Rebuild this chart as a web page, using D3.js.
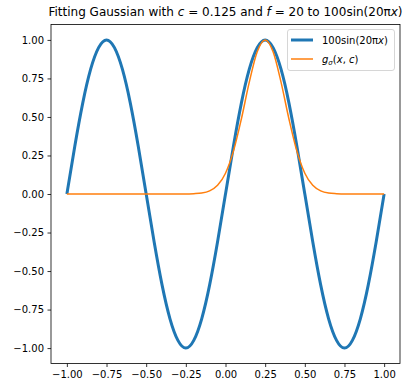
<!DOCTYPE html>
<html>
<head>
<meta charset="utf-8">
<script src="https://cdn.jsdelivr.net/npm/d3@7"></script>
<style>
  body { margin: 0; background: #fff; }
  text { font-family: "DejaVu Sans", sans-serif; }
</style>
</head>
<body>
<div id="chart"></div>
<script>
let xs = [-1.00, -0.95, -0.90, -0.85, -0.80, -0.75, -0.70, -0.65, -0.60, -0.55,
          -0.50, -0.45, -0.40, -0.35, -0.30, -0.25, -0.20, -0.15, -0.10, -0.05,
           0.00,  0.05,  0.10,  0.15,  0.20,  0.25,  0.30,  0.35,  0.40,  0.45,
           0.50,  0.55,  0.60,  0.65,  0.70,  0.75,  0.80,  0.85,  0.90,  0.95, 1.00];

// blue curve, 100sin(20πx) (normalised)
let sineVals = [0.00, 0.31, 0.59, 0.81, 0.95, 1.00, 0.95, 0.81, 0.59, 0.31,
                0.00, -0.31, -0.59, -0.81, -0.95, -1.00, -0.95, -0.81, -0.59, -0.31,
                0.00, 0.31, 0.59, 0.81, 0.95, 1.00, 0.95, 0.81, 0.59, 0.31,
                0.00, -0.31, -0.59, -0.81, -0.95, -1.00, -0.95, -0.81, -0.59, -0.31, 0.00];

// orange curve, fitted gaussian
let gaussVals = [0, 0, 0, 0, 0, 0, 0, 0, 0, 0,
                 0, 0, 0, 0, 0, 0, 0.002, 0.006, 0.02, 0.056,
                 0.135, 0.278, 0.487, 0.726, 0.923, 1.00, 0.923, 0.726, 0.487, 0.278,
                 0.135, 0.056, 0.02, 0.006, 0.002, 0, 0, 0, 0, 0, 0];

let tickVals = [-1.00, -0.75, -0.50, -0.25, 0.00, 0.25, 0.50, 0.75, 1.00];

let width = 410, height = 383;
let plotL = 51, plotR = 400, plotT = 24.5, plotB = 363.5;

let svg = d3.select("#chart").append("svg")
    .attr("width", width)
    .attr("height", height);

let x = d3.scaleLinear().domain([-1.1, 1.1]).range([plotL, plotR]);
let y = d3.scaleLinear().domain([-1.1, 1.1]).range([plotB, plotT]);

let fmt = function(d) { return d3.format(".2f")(d).replace("-", "\u2212"); };

// axes
let xAxis = svg.append("g")
    .attr("transform", "translate(0," + plotB + ")")
    .call(d3.axisBottom(x).tickValues(tickVals).tickFormat(fmt).tickSizeOuter(0).tickSize(3.5).tickPadding(3.5));
let yAxis = svg.append("g")
    .attr("transform", "translate(" + plotL + ",0)")
    .call(d3.axisLeft(y).tickValues(tickVals).tickFormat(fmt).tickSizeOuter(0).tickSize(3.5).tickPadding(3.5));
[xAxis, yAxis].forEach(function(a) {
    a.select(".domain").remove();
    a.selectAll("text").style("font-family", "DejaVu Sans").style("font-size", "10px").attr("fill", "#000");
    a.selectAll("line").attr("stroke", "#000").attr("stroke-width", 0.8);
});

let pts = xs.map(function(d, i) { return i; });

let lineOf = function(vals, curve) {
    return d3.line()
        .x(function(i) { return x(xs[i]); })
        .y(function(i) { return y(vals[i]); })
        .curve(curve);
};

svg.append("path")
    .attr("d", lineOf(sineVals, d3.curveNatural)(pts))
    .attr("fill", "none")
    .attr("stroke", "#1f77b4")
    .attr("stroke-width", 3)
    .attr("stroke-linejoin", "round");

svg.append("path")
    .attr("d", lineOf(gaussVals, d3.curveMonotoneX)(pts))
    .attr("fill", "none")
    .attr("stroke", "#ff7f0e")
    .attr("stroke-width", 1.5);

// frame
svg.append("rect")
    .attr("x", plotL).attr("y", plotT)
    .attr("width", plotR - plotL).attr("height", plotB - plotT)
    .attr("fill", "none").attr("stroke", "#000").attr("stroke-width", 0.8);

// title
let title = svg.append("text")
    .attr("x", (plotL + plotR) / 2).attr("y", 16)
    .attr("text-anchor", "middle")
    .style("font-size", "12px");
title.append("tspan").text("Fitting Gaussian with ");
title.append("tspan").style("font-style", "italic").text("c");
title.append("tspan").text(" = 0.125 and ");
title.append("tspan").style("font-style", "italic").text("f");
title.append("tspan").text(" = 20 to 100sin(20\u03c0");
title.append("tspan").style("font-style", "italic").text("x");
title.append("tspan").text(")");

// legend
let lg = svg.append("g");
lg.append("rect")
    .attr("x", 287.5).attr("y", 29.5).attr("width", 107).attr("height", 41)
    .attr("rx", 2.5)
    .attr("fill", "#fff").attr("fill-opacity", 0.8)
    .attr("stroke", "#cccccc").attr("stroke-width", 0.8);

lg.append("line")
    .attr("x1", 291).attr("x2", 313).attr("y1", 40).attr("y2", 40)
    .attr("stroke", "#1f77b4").attr("stroke-width", 3);
let t1 = lg.append("text").attr("x", 322).attr("y", 44).style("font-size", "10px");
t1.append("tspan").text("100sin(20\u03c0");
t1.append("tspan").style("font-style", "italic").text("x");
t1.append("tspan").text(")");

lg.append("line")
    .attr("x1", 291).attr("x2", 313).attr("y1", 59).attr("y2", 59)
    .attr("stroke", "#ff7f0e").attr("stroke-width", 1.5);
let t2 = lg.append("text").attr("x", 322).attr("y", 63).style("font-size", "10px");
t2.append("tspan").style("font-style", "italic").text("g");
t2.append("tspan").style("font-style", "italic").style("font-size", "7px").attr("dy", 2).text("\u03c3");
t2.append("tspan").attr("dy", -2).text("(");
t2.append("tspan").style("font-style", "italic").text("x");
t2.append("tspan").text(", ");
t2.append("tspan").style("font-style", "italic").text("c");
t2.append("tspan").text(")");
</script>
</body>
</html>
